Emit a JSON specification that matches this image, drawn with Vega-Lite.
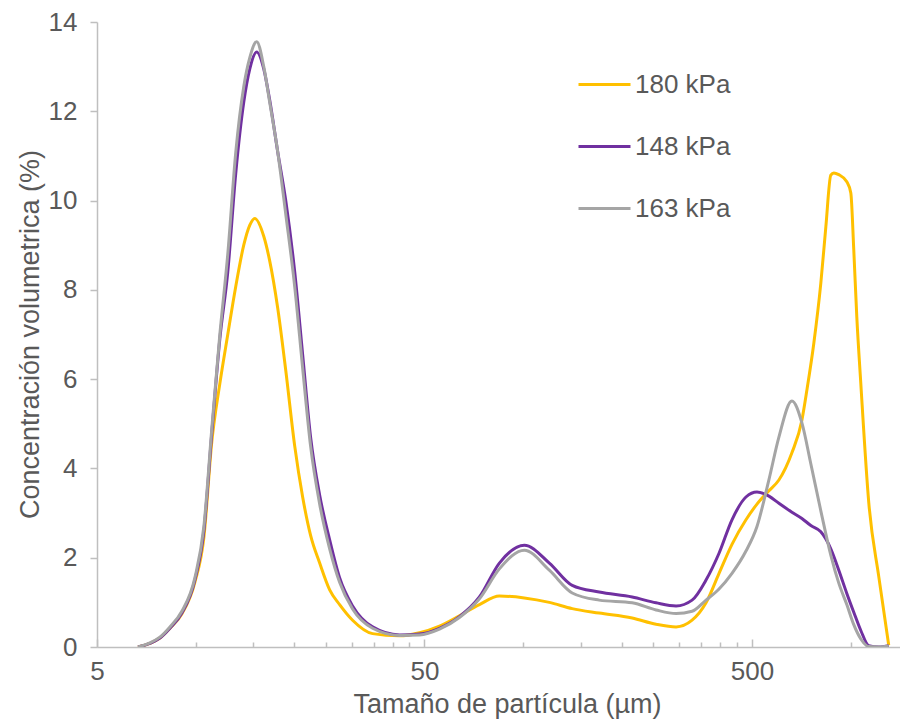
{
  "$schema": "https://vega.github.io/schema/vega-lite/v6.json",
  "width": 803,
  "height": 625,
  "autosize": "none",
  "padding": {"left": 97, "top": 22, "right": 0, "bottom": 72},
  "background": "white",
  "config": {"view": {"stroke": null}, "font": "Liberation Sans"},
  "datasets": {
    "d180": [
      {"x": 6.67, "y": 0}, {"x": 7.25, "y": 0.08}, {"x": 7.78, "y": 0.2}, {"x": 8.35, "y": 0.42}, {"x": 9.08, "y": 0.74},
      {"x": 9.95, "y": 1.45}, {"x": 10.6, "y": 2.45}, {"x": 11.21, "y": 4.6}, {"x": 11.86, "y": 5.9}, {"x": 12.54, "y": 7.0},
      {"x": 13.26, "y": 8.07}, {"x": 14.03, "y": 9.0}, {"x": 14.64, "y": 9.45}, {"x": 15.16, "y": 9.6}, {"x": 16.15, "y": 9.2},
      {"x": 16.84, "y": 8.65}, {"x": 17.81, "y": 7.6}, {"x": 18.85, "y": 6.2}, {"x": 20.08, "y": 4.5}, {"x": 21.23, "y": 3.36},
      {"x": 22.45, "y": 2.5}, {"x": 23.93, "y": 1.88}, {"x": 25.67, "y": 1.28}, {"x": 27.53, "y": 0.95}, {"x": 30.16, "y": 0.6},
      {"x": 34.71, "y": 0.3}, {"x": 41.95, "y": 0.25}, {"x": 48.28, "y": 0.32}, {"x": 55.56, "y": 0.47}, {"x": 63.93, "y": 0.7},
      {"x": 73.58, "y": 0.95}, {"x": 84.67, "y": 1.14}, {"x": 100.9, "y": 1.1}, {"x": 120.3, "y": 1.0}, {"x": 141.3, "y": 0.86},
      {"x": 170.8, "y": 0.76}, {"x": 215.4, "y": 0.65}, {"x": 254.8, "y": 0.51}, {"x": 293.3, "y": 0.45}, {"x": 328.2, "y": 0.6},
      {"x": 362.0, "y": 0.99}, {"x": 396.7, "y": 1.65}, {"x": 434.5, "y": 2.3}, {"x": 479.4, "y": 2.85}, {"x": 518.0, "y": 3.2},
      {"x": 563.5, "y": 3.5}, {"x": 604.3, "y": 3.74}, {"x": 662.2, "y": 4.35}, {"x": 710.4, "y": 5.08}, {"x": 736, "y": 5.76},
      {"x": 772.7, "y": 6.81}, {"x": 811.5, "y": 8.15}, {"x": 840.6, "y": 9.41}, {"x": 870.4, "y": 10.57}, {"x": 889, "y": 10.62},
      {"x": 920.8, "y": 10.58}, {"x": 974.2, "y": 10.42}, {"x": 1002, "y": 10.17}, {"x": 1023, "y": 8.9}, {"x": 1045, "y": 7.4},
      {"x": 1075, "y": 5.9}, {"x": 1137, "y": 3.23}, {"x": 1220, "y": 1.57}, {"x": 1308, "y": 0.04}
    ],
    "d148": [
      {"x": 6.67, "y": 0}, {"x": 7.25, "y": 0.08}, {"x": 7.78, "y": 0.2}, {"x": 8.35, "y": 0.42}, {"x": 9.08, "y": 0.76},
      {"x": 9.95, "y": 1.5}, {"x": 10.6, "y": 2.6}, {"x": 11.21, "y": 4.8}, {"x": 11.86, "y": 6.9}, {"x": 12.54, "y": 8.4},
      {"x": 13.26, "y": 10.6}, {"x": 14.03, "y": 12.2}, {"x": 14.64, "y": 12.95}, {"x": 15.37, "y": 13.33}, {"x": 16.15, "y": 12.95},
      {"x": 16.84, "y": 12.25}, {"x": 17.81, "y": 11.1}, {"x": 18.85, "y": 10.0}, {"x": 20.08, "y": 8.4}, {"x": 21.23, "y": 6.55},
      {"x": 22.45, "y": 4.7}, {"x": 23.93, "y": 3.4}, {"x": 25.67, "y": 2.4}, {"x": 27.53, "y": 1.55}, {"x": 30.16, "y": 0.92},
      {"x": 34.71, "y": 0.45}, {"x": 41.95, "y": 0.27}, {"x": 48.28, "y": 0.29}, {"x": 55.56, "y": 0.42}, {"x": 63.93, "y": 0.68},
      {"x": 73.58, "y": 1.12}, {"x": 84.67, "y": 1.88}, {"x": 100.9, "y": 2.28}, {"x": 120.3, "y": 1.88}, {"x": 141.3, "y": 1.38},
      {"x": 170.8, "y": 1.23}, {"x": 215.4, "y": 1.12}, {"x": 254.8, "y": 0.99}, {"x": 293.3, "y": 0.92}, {"x": 328.2, "y": 1.05},
      {"x": 362.0, "y": 1.5}, {"x": 396.7, "y": 2.1}, {"x": 434.5, "y": 2.85}, {"x": 479.4, "y": 3.36}, {"x": 518.0, "y": 3.47},
      {"x": 563.5, "y": 3.38}, {"x": 604.3, "y": 3.22}, {"x": 662.2, "y": 3.02}, {"x": 710.4, "y": 2.88}, {"x": 756.6, "y": 2.72},
      {"x": 811.5, "y": 2.58}, {"x": 870.4, "y": 2.2}, {"x": 920.8, "y": 1.72}, {"x": 974.2, "y": 1.2}, {"x": 1023, "y": 0.78},
      {"x": 1075, "y": 0.37}, {"x": 1137, "y": 0.03}, {"x": 1220, "y": 0}, {"x": 1308, "y": 0.03}
    ],
    "d163": [
      {"x": 6.67, "y": 0}, {"x": 7.25, "y": 0.09}, {"x": 7.78, "y": 0.22}, {"x": 8.35, "y": 0.45}, {"x": 9.08, "y": 0.8},
      {"x": 9.95, "y": 1.55}, {"x": 10.6, "y": 2.7}, {"x": 11.21, "y": 4.9}, {"x": 11.86, "y": 7.0}, {"x": 12.54, "y": 8.8},
      {"x": 13.26, "y": 11.07}, {"x": 14.03, "y": 12.55}, {"x": 14.64, "y": 13.2}, {"x": 15.37, "y": 13.56}, {"x": 16.15, "y": 13.0},
      {"x": 16.84, "y": 12.2}, {"x": 17.81, "y": 11.1}, {"x": 18.85, "y": 9.7}, {"x": 20.08, "y": 8.07}, {"x": 21.23, "y": 6.25},
      {"x": 22.45, "y": 4.5}, {"x": 23.93, "y": 3.2}, {"x": 25.67, "y": 2.2}, {"x": 27.53, "y": 1.45}, {"x": 30.16, "y": 0.85},
      {"x": 34.71, "y": 0.42}, {"x": 41.95, "y": 0.26}, {"x": 48.28, "y": 0.27}, {"x": 55.56, "y": 0.4}, {"x": 63.93, "y": 0.66},
      {"x": 73.58, "y": 1.08}, {"x": 84.67, "y": 1.75}, {"x": 100.9, "y": 2.17}, {"x": 120.3, "y": 1.72}, {"x": 141.3, "y": 1.21},
      {"x": 170.8, "y": 1.05}, {"x": 215.4, "y": 0.99}, {"x": 254.8, "y": 0.83}, {"x": 293.3, "y": 0.75}, {"x": 328.2, "y": 0.8},
      {"x": 362.0, "y": 1.05}, {"x": 396.7, "y": 1.3}, {"x": 434.5, "y": 1.65}, {"x": 479.4, "y": 2.15}, {"x": 518.0, "y": 2.7},
      {"x": 563.5, "y": 3.75}, {"x": 604.3, "y": 4.7}, {"x": 662.2, "y": 5.51}, {"x": 710.4, "y": 5.02}, {"x": 756.6, "y": 4.1},
      {"x": 811.5, "y": 3.05}, {"x": 870.4, "y": 2.06}, {"x": 920.8, "y": 1.43}, {"x": 974.2, "y": 0.95}, {"x": 1023, "y": 0.5},
      {"x": 1075, "y": 0.18}, {"x": 1137, "y": 0.01}, {"x": 1220, "y": 0}, {"x": 1308, "y": 0.02}
    ]
  },
  "data": {"name": "d180"},
  "layer": [
    {
      "data": {"name": "d180"},
      "transform": [{"calculate": "'180 kPa'", "as": "serie"}],
      "mark": {"type": "line", "interpolate": "monotone", "strokeWidth": 3, "clip": true},
      "encoding": {
        "x": {"field": "x", "type": "quantitative"},
        "y": {"field": "y", "type": "quantitative"},
        "color": {"field": "serie", "type": "nominal"}
      }
    },
    {
      "data": {"name": "d148"},
      "transform": [{"calculate": "'148 kPa'", "as": "serie"}],
      "mark": {"type": "line", "interpolate": "monotone", "strokeWidth": 3, "clip": true},
      "encoding": {
        "x": {"field": "x", "type": "quantitative"},
        "y": {"field": "y", "type": "quantitative"},
        "color": {"field": "serie", "type": "nominal"}
      }
    },
    {
      "data": {"name": "d163"},
      "transform": [{"calculate": "'163 kPa'", "as": "serie"}],
      "mark": {"type": "line", "interpolate": "monotone", "strokeWidth": 3, "clip": true},
      "encoding": {
        "x": {
          "field": "x", "type": "quantitative",
          "scale": {"type": "log", "domain": [5, 1416], "nice": false},
          "axis": {
            "title": "Tamaño de partícula  (µm)",
            "values": [5, 10, 15, 20, 25, 30, 35, 40, 45, 50, 100, 150, 200, 250, 300, 350, 400, 450, 500, 1000],
            "format": "d",
            "labelExpr": "indexof([5, 50, 500], datum.value) >= 0 ? datum.label : ''",
            "grid": false,
            "domainColor": "#BFBFBF", "domainWidth": 1.5,
            "tickColor": "#BFBFBF", "tickWidth": 1.5,
            "tickSize": {"condition": {"test": "indexof([5, 50, 500], datum.value) >= 0", "value": -8}, "value": -5},
            "labelFontSize": 26, "labelColor": "#595959", "labelFont": "Liberation Sans",
            "labelPadding": 19, "labelFlush": false, "labelOverlap": false,
            "titleFontSize": 27, "titleColor": "#595959", "titleFont": "Liberation Sans", "titleFontWeight": "normal",
            "titleX": 410, "titleY": 65, "titleAlign": "center", "titleAnchor": null, "titleBaseline": "alphabetic"
          }
        },
        "y": {
          "field": "y", "type": "quantitative",
          "scale": {"domain": [0, 14], "nice": false},
          "axis": {
            "title": "Concentración volumetrica  (%)",
            "values": [0, 2, 4, 6, 8, 10, 12, 14],
            "grid": false,
            "domainColor": "#BFBFBF", "domainWidth": 1.5,
            "tickColor": "#BFBFBF", "tickWidth": 1.5, "tickSize": 7,
            "labelFontSize": 26, "labelColor": "#595959", "labelFont": "Liberation Sans",
            "labelPadding": 13, "labelFlush": false,
            "titleFontSize": 27, "titleColor": "#595959", "titleFont": "Liberation Sans", "titleFontWeight": "normal",
            "titleAngle": 270, "titleX": -59, "titleY": 312, "titleAlign": "center", "titleAnchor": null, "titleBaseline": "alphabetic"
          }
        },
        "color": {
          "field": "serie", "type": "nominal",
          "scale": {"domain": ["180 kPa", "148 kPa", "163 kPa"], "range": ["#FFC000", "#7030A0", "#A5A5A5"]},
          "legend": {
            "title": null, "orient": "none", "legendX": 480, "legendY": 35,
            "symbolType": "stroke", "symbolSize": 2704, "symbolStrokeWidth": 3,
            "labelFontSize": 26, "labelColor": "#595959", "labelFont": "Liberation Sans",
            "labelOffset": 3, "rowPadding": 21, "padding": 0
          }
        }
      }
    }
  ]
}
